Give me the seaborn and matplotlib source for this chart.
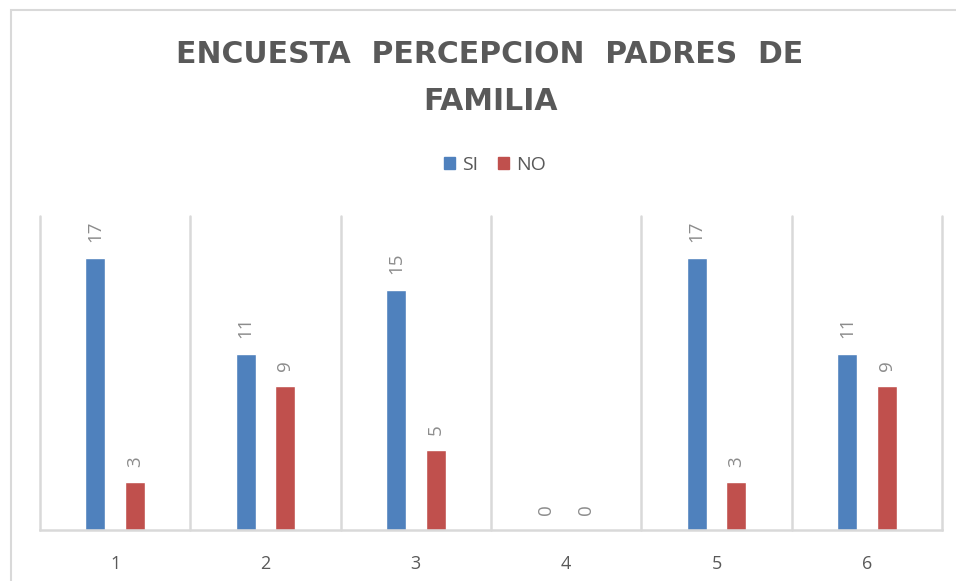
import numpy as np
import pandas as pd
import matplotlib
matplotlib.use("Agg")
import matplotlib.pyplot as plt
import seaborn as sns
from matplotlib.patches import Rectangle

# Data
preguntas = ["1", "2", "3", "4", "5", "6"]
si_values = [17, 11, 15, 0, 17, 11]
no_values = [3, 9, 5, 0, 3, 9]
series_names = ["SI", "NO"]
series_colors = ["#4F81BD", "#C0504D"]

df = pd.DataFrame({
    "Pregunta": preguntas * 2,
    "Respuesta": [series_names[0]] * len(preguntas) + [series_names[1]] * len(preguntas),
    "Valor": si_values + no_values,
})

sns.set_theme(style="white")
plt.rcParams["font.family"] = ["Open Sans", "DejaVu Sans"]

W, H = 956, 581
fig = plt.figure(figsize=(W / 100, H / 100), dpi=100)
ax = fig.add_axes([40 / W, 1 - 530 / H, (942 - 40) / W, (530 - 216) / H])

sns.barplot(data=df, x="Pregunta", y="Valor", hue="Respuesta",
            palette=series_colors, width=0.53, gap=0.5, ax=ax,
            legend=False, saturation=1)

# rotated value labels above the bars
for cont in ax.containers:
    ax.bar_label(cont, fmt="%d", rotation=90, padding=11,
                 fontsize=13.5, color="#8C8C8C")

ax.set_xlim(-0.5, len(preguntas) - 0.5)
ax.set_ylim(0, 19.6)
ax.set_xlabel("")
ax.set_ylabel("")
ax.set_yticks([])
ax.tick_params(axis="x", length=0, labelsize=13, labelcolor="#595959", pad=18)

for side in ["top", "left", "right"]:
    ax.spines[side].set_visible(False)
ax.spines["bottom"].set_color("#D9D9D9")
ax.spines["bottom"].set_linewidth(1.8)

# vertical separators between categories
for b in np.arange(len(preguntas) + 1) - 0.5:
    ax.axvline(b, color="#D9D9D9", lw=1.8, clip_on=False, zorder=0)

# legend
handles = [Rectangle((0, 0), 1, 1, color=c) for c in series_colors]
fig.legend(handles, series_names, loc="center", bbox_to_anchor=(495 / W, 1 - 165 / H),
           ncol=2, frameon=False, handlelength=0.55, handleheight=0.55,
           handletextpad=0.4, columnspacing=1.0,
           prop={"size": 14}, labelcolor="#595959")

# title
fig.text(490 / W, 1 - 78 / H, "ENCUESTA  PERCEPCION  PADRES  DE\nFAMILIA",
         ha="center", va="center", fontsize=21.5, fontweight="bold",
         family="DejaVu Sans", color="#595959", linespacing=1.8)

# chart frame
fig.patches.append(Rectangle((11 / W, -0.1), 1.2, 1 - 10 / H + 0.1,
                             transform=fig.transFigure, fill=False,
                             edgecolor="#D9D9D9", lw=1.5))

fig.savefig("out.png", dpi=100)
